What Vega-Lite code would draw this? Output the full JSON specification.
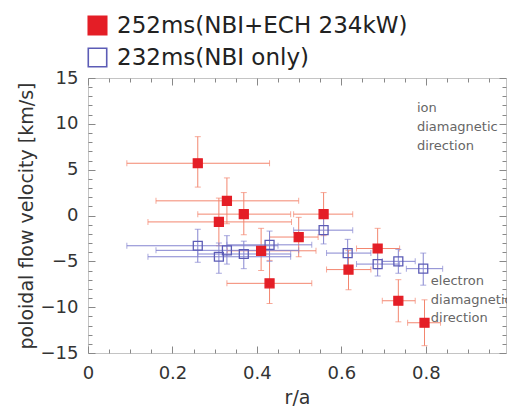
{
  "$schema": "https://vega.github.io/schema/vega-lite/v6.json",
  "width": 418,
  "height": 275,
  "autosize": {"type": "none"},
  "padding": {"left": 88, "top": 78, "right": 1, "bottom": 54},
  "background": "white",
  "config": {
    "view": {"stroke": "#c4c4c4", "strokeWidth": 1},
    "font": "DejaVu Sans",
    "axis": {"domain": false, "grid": false, "ticks": true, "tickColor": "#888888", "tickWidth": 1, "tickOpacity": 1, "labelColor": "#333333", "titleColor": "#333333", "labelFont": "DejaVu Sans", "titleFont": "DejaVu Sans", "titleFontWeight": "normal", "labelOverlap": false, "labelFlush": false, "zindex": 1}
  },
  "datasets": {
    "pts": [
      {"series": "232ms(NBI only)", "x": 0.26, "y": -3.3, "xlo": 0.092, "xhi": 0.45, "ylo": -5.1, "yhi": -1.5},
      {"series": "232ms(NBI only)", "x": 0.31, "y": -4.5, "xlo": 0.142, "xhi": 0.48, "ylo": -6.3, "yhi": -3.0},
      {"series": "232ms(NBI only)", "x": 0.329, "y": -3.8, "xlo": 0.161, "xhi": 0.499, "ylo": -5.3, "yhi": -2.2},
      {"series": "232ms(NBI only)", "x": 0.369, "y": -4.2, "xlo": 0.26, "xhi": 0.48, "ylo": -5.8, "yhi": -2.8},
      {"series": "232ms(NBI only)", "x": 0.43, "y": -3.2, "xlo": 0.329, "xhi": 0.53, "ylo": -5.0, "yhi": -1.7},
      {"series": "232ms(NBI only)", "x": 0.558, "y": -1.6, "xlo": 0.487, "xhi": 0.627, "ylo": -3.1, "yhi": -0.3},
      {"series": "232ms(NBI only)", "x": 0.615, "y": -4.1, "xlo": 0.565, "xhi": 0.67, "ylo": -5.6, "yhi": -2.6},
      {"series": "232ms(NBI only)", "x": 0.686, "y": -5.3, "xlo": 0.636, "xhi": 0.738, "ylo": -6.6, "yhi": -3.9},
      {"series": "232ms(NBI only)", "x": 0.735, "y": -5.0, "xlo": 0.697, "xhi": 0.775, "ylo": -6.3, "yhi": -3.7},
      {"series": "232ms(NBI only)", "x": 0.794, "y": -5.8, "xlo": 0.754, "xhi": 0.84, "ylo": -7.6, "yhi": -4.1},
      {"series": "252ms(NBI+ECH 234kW)", "x": 0.26, "y": 5.7, "xlo": 0.092, "xhi": 0.43, "ylo": 3.1, "yhi": 8.6},
      {"series": "252ms(NBI+ECH 234kW)", "x": 0.329, "y": 1.6, "xlo": 0.161, "xhi": 0.499, "ylo": -0.9, "yhi": 4.1},
      {"series": "252ms(NBI+ECH 234kW)", "x": 0.31, "y": -0.7, "xlo": 0.142, "xhi": 0.482, "ylo": -3.3, "yhi": 1.9},
      {"series": "252ms(NBI+ECH 234kW)", "x": 0.369, "y": 0.15, "xlo": 0.26, "xhi": 0.48, "ylo": -2.1, "yhi": 2.5},
      {"series": "252ms(NBI+ECH 234kW)", "x": 0.558, "y": 0.15, "xlo": 0.487, "xhi": 0.627, "ylo": -2.2, "yhi": 2.5},
      {"series": "252ms(NBI+ECH 234kW)", "x": 0.499, "y": -2.35, "xlo": 0.43, "xhi": 0.545, "ylo": -4.5, "yhi": -0.2},
      {"series": "252ms(NBI+ECH 234kW)", "x": 0.41, "y": -3.85, "xlo": 0.33, "xhi": 0.54, "ylo": -6.0, "yhi": -1.4},
      {"series": "252ms(NBI+ECH 234kW)", "x": 0.43, "y": -7.4, "xlo": 0.329, "xhi": 0.53, "ylo": -9.6, "yhi": -4.9},
      {"series": "252ms(NBI+ECH 234kW)", "x": 0.617, "y": -5.9, "xlo": 0.565, "xhi": 0.67, "ylo": -8.1, "yhi": -3.8},
      {"series": "252ms(NBI+ECH 234kW)", "x": 0.686, "y": -3.6, "xlo": 0.636, "xhi": 0.738, "ylo": -5.8, "yhi": -1.4},
      {"series": "252ms(NBI+ECH 234kW)", "x": 0.735, "y": -9.3, "xlo": 0.697, "xhi": 0.775, "ylo": -11.6, "yhi": -7.0},
      {"series": "252ms(NBI+ECH 234kW)", "x": 0.797, "y": -11.7, "xlo": 0.757, "xhi": 0.835, "ylo": -14.2, "yhi": -9.2}
    ]
  },
  "resolve": {"axis": {"x": "independent", "y": "independent"}},
  "layer": [
    {
      "layer": [
        {
          "data": {"name": "pts"},
          "transform": [{"filter": "datum.series === '252ms(NBI+ECH 234kW)'"}],
          "mark": {"type": "errorbar", "ticks": {"size": 6, "thickness": 1}, "thickness": 1, "color": "#f3866f"},
          "encoding": {
            "x": {"field": "xlo", "type": "quantitative", "title": "r/a"},
            "x2": {"field": "xhi"},
            "y": {"field": "y", "type": "quantitative", "title": "poloidal flow velocity [km/s]"}
          }
        },
        {
          "data": {"name": "pts"},
          "transform": [{"filter": "datum.series === '252ms(NBI+ECH 234kW)'"}],
          "mark": {"type": "errorbar", "ticks": {"size": 6, "thickness": 1}, "thickness": 1, "color": "#f3866f"},
          "encoding": {
            "y": {"field": "ylo", "type": "quantitative", "title": "poloidal flow velocity [km/s]"},
            "y2": {"field": "yhi"},
            "x": {"field": "x", "type": "quantitative", "title": "r/a"}
          }
        },
        {
          "data": {"name": "pts"},
          "transform": [{"filter": "datum.series === '232ms(NBI only)'"}],
          "mark": {"type": "errorbar", "ticks": {"size": 6, "thickness": 1}, "thickness": 1, "color": "#8585d0"},
          "encoding": {
            "x": {"field": "xlo", "type": "quantitative", "title": "r/a"},
            "x2": {"field": "xhi"},
            "y": {"field": "y", "type": "quantitative", "title": "poloidal flow velocity [km/s]"}
          }
        },
        {
          "data": {"name": "pts"},
          "transform": [{"filter": "datum.series === '232ms(NBI only)'"}],
          "mark": {"type": "errorbar", "ticks": {"size": 6, "thickness": 1}, "thickness": 1, "color": "#8585d0"},
          "encoding": {
            "y": {"field": "ylo", "type": "quantitative", "title": "poloidal flow velocity [km/s]"},
            "y2": {"field": "yhi"},
            "x": {"field": "x", "type": "quantitative", "title": "r/a"}
          }
        },
        {
          "data": {"name": "pts"},
          "mark": {"type": "point", "shape": "square", "size": 80, "strokeWidth": 1.3, "opacity": 1},
          "encoding": {
            "x": {
              "field": "x", "type": "quantitative", "title": "r/a",
              "scale": {"domain": [0, 0.99], "nice": false, "zero": false},
              "axis": {
                "titleFontSize": 19, "titlePadding": 6,
                "values": [0, 0.2, 0.4, 0.6, 0.8],
                "format": ".1~f",
                "labelFontSize": 18, "labelPadding": 11,
                "offset": -7, "tickSize": 7, "ticks": true, "labelOverlap": false
              }
            },
            "y": {
              "field": "y", "type": "quantitative", "title": "poloidal flow velocity [km/s]",
              "scale": {"domain": [-15, 15], "nice": false, "zero": false},
              "axis": {
                "titleFontSize": 19, "titlePadding": 4,
                "values": [-15, -10, -5, 0, 5, 10, 15],
                "labelFontSize": 18, "labelPadding": 10,
                "offset": -7, "tickSize": 7, "ticks": true, "labelOverlap": false
              }
            },
            "stroke": {
              "field": "series", "type": "nominal",
              "scale": {"domain": ["252ms(NBI+ECH 234kW)", "232ms(NBI only)"], "range": ["#e41e26", "#5c5cb6"]},
              "legend": {"title": null, "orient": "none", "legendX": -2, "legendY": -64, "labelFontSize": 23, "labelFont": "DejaVu Sans", "labelColor": "#222222", "labelLimit": 500, "symbolType": "square", "symbolSize": 340, "symbolStrokeWidth": 1.6, "labelOffset": 8, "rowPadding": 7, "padding": 0}
            },
            "fill": {
              "field": "series", "type": "nominal",
              "scale": {"domain": ["252ms(NBI+ECH 234kW)", "232ms(NBI only)"], "range": ["#e41e26", "rgba(255,255,255,0)"]},
              "legend": {"title": null, "orient": "none", "legendX": -2, "legendY": -64, "labelFontSize": 23, "labelFont": "DejaVu Sans", "labelColor": "#222222", "labelLimit": 500, "symbolType": "square", "symbolSize": 340, "symbolStrokeWidth": 1.6, "labelOffset": 8, "rowPadding": 7, "padding": 0}
            }
          }
        }
      ]
    },
    {
      "data": {"values": [{}]},
      "mark": {"type": "text", "text": ["electron", "diamagnetic", "direction"], "align": "left", "baseline": "top", "fontSize": 13, "lineHeight": 18.5, "color": "#666666", "font": "DejaVu Sans", "clip": false},
      "encoding": {
        "x": {"datum": 0.812, "type": "quantitative", "axis": {"orient": "top", "offset": -7, "tickSize": 7, "ticks": true, "labels": false, "title": null, "values": [0, 0.2, 0.4, 0.6, 0.8]}},
        "y": {"datum": -6.5, "type": "quantitative", "axis": {"orient": "right", "offset": -7, "tickSize": 7, "ticks": true, "labels": false, "title": null, "values": [-15, -10, -5, 0, 5, 10, 15]}}
      }
    },
    {
      "data": {"values": [{}]},
      "mark": {"type": "text", "text": ["ion", "diamagnetic", "direction"], "align": "left", "baseline": "top", "fontSize": 13, "lineHeight": 19, "color": "#666666", "font": "DejaVu Sans"},
      "encoding": {
        "x": {"datum": 0.779, "type": "quantitative", "axis": {"orient": "bottom", "offset": -4, "tickSize": 4, "ticks": true, "labels": false, "title": null, "values": [0.05, 0.1, 0.15, 0.25, 0.3, 0.35, 0.45, 0.5, 0.55, 0.65, 0.7, 0.75, 0.85, 0.9, 0.95]}},
        "y": {"datum": 12.4, "type": "quantitative", "axis": {"orient": "left", "offset": -4, "tickSize": 4, "ticks": true, "labels": false, "title": null, "values": [-14, -13, -12, -11, -9, -8, -7, -6, -4, -3, -2, -1, 1, 2, 3, 4, 6, 7, 8, 9, 11, 12, 13, 14]}}
      }
    },
    {
      "data": {"values": [{}]},
      "mark": {"type": "text", "text": " ", "opacity": 0},
      "encoding": {
        "x": {"datum": 0.5, "type": "quantitative", "axis": {"orient": "top", "offset": -4, "tickSize": 4, "ticks": true, "labels": false, "title": null, "values": [0.05, 0.1, 0.15, 0.25, 0.3, 0.35, 0.45, 0.5, 0.55, 0.65, 0.7, 0.75, 0.85, 0.9, 0.95]}},
        "y": {"datum": 0, "type": "quantitative", "axis": {"orient": "right", "offset": -4, "tickSize": 4, "ticks": true, "labels": false, "title": null, "values": [-14, -13, -12, -11, -9, -8, -7, -6, -4, -3, -2, -1, 1, 2, 3, 4, 6, 7, 8, 9, 11, 12, 13, 14]}}
      }
    }
  ]
}
